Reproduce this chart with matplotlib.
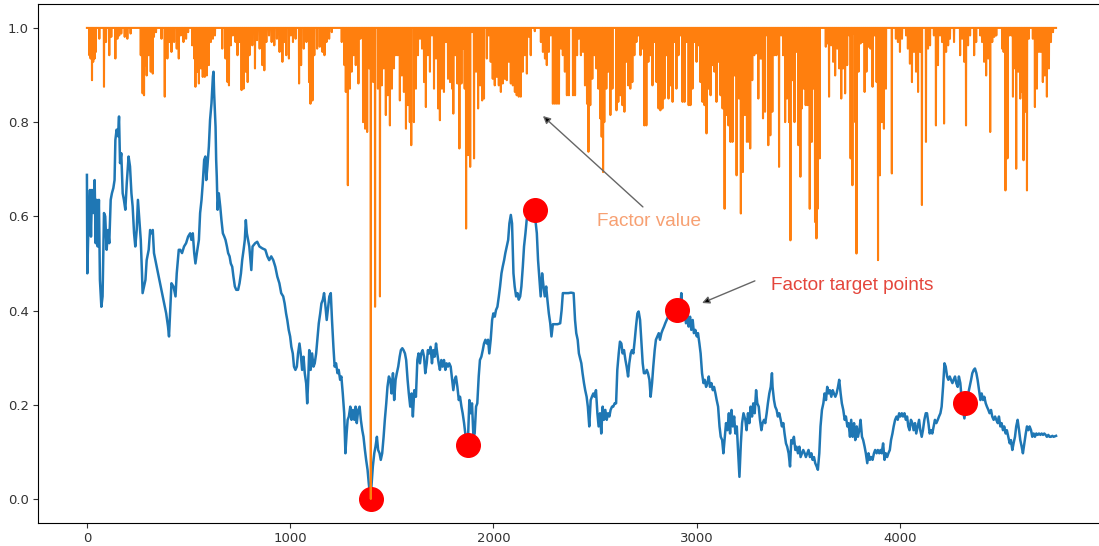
import numpy as np
import matplotlib
matplotlib.use("Agg")
import matplotlib.pyplot as plt

# ── Price curve (normalised), sampled along the bar index ─────────────────────
PRICE_X = [
    0, 2, 8, 15, 20, 25, 31, 38, 43, 48, 53, 59, 64, 71, 77, 84, 90, 97, 104, 110,
    117, 123, 130, 136, 140, 146, 153, 158, 163, 169, 176, 182, 189, 196, 205, 212,
    219, 225, 232, 238, 245, 251, 258, 265, 271, 274, 281, 288, 294, 304, 311, 317,
    324, 330, 340, 350, 360, 370, 380, 390, 399, 404, 409, 416, 426, 436, 442, 452,
    459, 468, 478, 488, 498, 508, 514, 521, 528, 534, 541, 551, 557, 564, 570, 577,
    583, 587, 593, 600, 606, 613, 620, 623, 626, 633, 636, 639, 643, 649, 656, 662,
    669, 676, 682, 689, 695, 702, 708, 715, 721, 728, 735, 744, 751, 758, 764, 771,
    777, 782, 787,
    799, 809, 815, 828, 838, 849, 863, 878, 888, 897, 907, 917, 927, 937, 947, 956,
    966, 973, 980, 986, 993, 1000, 1006, 1013, 1019, 1026, 1033, 1039, 1046, 1052,
    1059, 1066, 1072, 1079, 1084, 1089, 1094, 1101, 1108, 1115, 1121, 1128, 1134,
    1141, 1148, 1154, 1161, 1167, 1174, 1180, 1187, 1193, 1200, 1206, 1213, 1219,
    1226, 1233, 1239, 1246, 1252, 1259, 1266, 1272, 1278, 1283, 1289, 1296, 1302,
    1309, 1316, 1322, 1328, 1335, 1342, 1348, 1355, 1361, 1368, 1374, 1381, 1387,
    1394, 1397, 1400, 1407, 1414, 1420, 1427, 1433, 1440, 1446, 1453, 1460, 1466,
    1473, 1479, 1486, 1493, 1499, 1506, 1512, 1519, 1525, 1532, 1539, 1545, 1552,
    1558, 1565, 1571, 1578, 1584, 1591, 1598, 1604, 1611,
    1619, 1626, 1632, 1639, 1645, 1652, 1659, 1665, 1672, 1678, 1685, 1691, 1698,
    1704, 1711, 1718, 1724, 1731, 1737, 1744, 1750, 1757, 1764, 1770, 1777, 1783,
    1790, 1797, 1803, 1810, 1816, 1823, 1830, 1836, 1843, 1849, 1856, 1862, 1869,
    1875, 1882, 1888, 1895, 1902, 1908, 1915, 1921, 1928, 1934, 1941, 1948, 1954,
    1961, 1967, 1974, 1980, 1987, 1994, 2000, 2007, 2013, 2020, 2027, 2033, 2040,
    2046, 2053, 2059, 2066, 2073, 2079, 2086, 2092, 2095, 2099, 2105, 2112, 2119,
    2125, 2132, 2138, 2145, 2151, 2158, 2164, 2171, 2184, 2197, 2207, 2214, 2220,
    2227, 2233, 2240, 2247, 2253, 2260, 2266, 2273, 2280, 2286, 2293, 2299, 2316,
    2329, 2336, 2342, 2355, 2369, 2382, 2395, 2402, 2408, 2415, 2421,
    2433, 2439, 2446, 2452, 2459, 2465, 2472, 2479, 2485, 2492, 2498, 2505, 2512,
    2518, 2525, 2531, 2538, 2544, 2551, 2558, 2564, 2571, 2577, 2584, 2590, 2597,
    2604, 2610, 2617, 2623, 2630, 2636, 2643, 2650, 2656, 2663, 2669, 2676, 2682,
    2689, 2696, 2702, 2709, 2715, 2722, 2728, 2735, 2741, 2748, 2755, 2761, 2768,
    2774, 2781, 2787, 2794, 2800, 2807, 2814, 2820, 2827, 2833, 2840, 2846, 2853,
    2860, 2866, 2873, 2879, 2886, 2892, 2899, 2905, 2912, 2919, 2925, 2928, 2935,
    2941, 2948, 2955, 2961, 2968, 2974, 2981, 2987, 2994, 3001, 3007, 3014, 3020,
    3027, 3034, 3040, 3047, 3053, 3060, 3066, 3073, 3080, 3086, 3093, 3099, 3106,
    3113, 3119, 3126, 3132, 3139, 3145, 3152, 3159, 3165, 3172, 3178, 3185, 3191,
    3198, 3205, 3211, 3218, 3224, 3231,
    3240, 3246, 3253, 3260, 3266, 3273, 3279, 3286, 3293, 3299, 3306, 3312, 3319,
    3325, 3332, 3338, 3345, 3351, 3358, 3365, 3371, 3374, 3381, 3387, 3394, 3400,
    3407, 3414, 3420, 3427, 3433, 3440, 3446, 3453, 3460, 3466, 3473, 3479, 3486,
    3492, 3499, 3506, 3512, 3519, 3525, 3532, 3538, 3545, 3551, 3558, 3565, 3571,
    3578, 3584, 3591, 3597, 3604, 3610, 3617, 3624, 3630, 3637, 3643, 3650, 3656,
    3663, 3670, 3676, 3683, 3689, 3696, 3702, 3709, 3715, 3722, 3729, 3735, 3742,
    3748, 3755, 3761, 3768, 3775, 3781, 3788, 3794, 3801, 3807, 3814, 3820, 3827,
    3833, 3840, 3846, 3853, 3860, 3866, 3873, 3879, 3886, 3892, 3899, 3905, 3911,
    3918, 3925, 3931, 3938, 3944, 3951, 3957, 3964, 3970, 3977, 3984, 3990, 3997,
    4003, 4010, 4016, 4023, 4030, 4036,
    4042, 4048, 4055, 4062, 4068, 4075, 4081, 4088, 4095, 4101, 4108, 4114, 4121,
    4128, 4134, 4141, 4147, 4154, 4160, 4167, 4173, 4180, 4187, 4193, 4200, 4206,
    4213, 4220, 4226, 4233, 4239, 4246, 4252, 4259, 4265, 4272, 4278, 4285, 4291,
    4298, 4305, 4311, 4318, 4324, 4331, 4337, 4344, 4351, 4357, 4364, 4370, 4377,
    4383, 4390, 4397, 4403, 4410, 4416, 4423, 4429, 4436, 4442, 4449, 4455, 4462,
    4469, 4475, 4482, 4488, 4495, 4501, 4508, 4514, 4521, 4527, 4534, 4541, 4547,
    4554, 4560, 4567, 4573, 4580, 4587, 4593, 4600, 4606, 4613, 4620, 4626, 4633,
    4639, 4646, 4652, 4659, 4665, 4672, 4679, 4685, 4692, 4698, 4705, 4711, 4718,
    4724, 4731, 4737, 4744, 4751, 4757, 4769,
]
PRICE_Y = [
    .688, .479, .592, .656, .557, .656, .607, .677, .543, .635, .536, .635, .465, .408, .430, .607, .600, .529, .571, .543,
    .635, .649, .660, .677, .762, .784, .770, .812, .713, .734, .649, .635, .614, .670, .727, .706,
    .649, .621, .564, .536, .571, .635, .592, .550, .479, .437, .451, .465, .507, .529, .571, .564,
    .571, .522, .500, .479, .458, .437, .415, .394, .366, .345, .394, .458, .451, .430, .479, .529,
    .529, .522, .536, .543, .557, .564, .550, .564, .522, .500, .522, .550, .607, .635, .670, .720,
    .727, .677, .706, .748, .805, .840, .897, .907, .861, .790, .720, .684, .614, .649, .621, .592,
    .564, .557, .550, .536, .522, .515, .500, .493, .472, .451, .444, .444, .458, .479, .507, .529,
    .550, .592, .564,
    .536, .486, .536, .543, .546, .536, .532, .529, .515, .507, .515, .507, .493, .472, .458, .437,
    .430, .415, .394, .380, .359, .345, .323, .309, .281, .274, .281, .309, .330, .309,
    .274, .302, .267, .245, .203, .253, .316, .274, .309, .281, .288, .309, .338,
    .373, .394, .415, .423, .437, .408, .380, .408, .430, .437, .380, .323, .281,
    .288, .267, .274, .253, .260, .224, .182, .097, .139, .168, .175, .196, .168,
    .189, .168, .196, .161, .189, .196, .168, .146, .132, .104, .083, .062, .033,
    .005, .000, .026, .069, .097, .111, .132, .104, .097, .083, .097, .132, .168,
    .203, .238, .260, .253, .224, .267, .210, .253, .267, .281, .302, .316, .320,
    .316, .309, .295, .253, .224, .196, .224, .175, .231,
    .217, .295, .309, .288, .309, .316, .302, .267, .288, .316, .309, .323, .288,
    .316, .302, .330, .309, .288, .274, .295, .281, .295, .274, .288, .281, .288,
    .281, .253, .231, .253, .260, .238, .210, .217, .196, .182, .161, .139, .118,
    .125, .210, .182, .203, .132, .139, .196, .203, .260, .295, .302, .316, .330,
    .338, .330, .338, .309, .338, .380, .394, .387, .401, .408, .430, .451, .479,
    .493, .507, .522, .536, .550, .585, .603, .585, .536, .479, .451, .430, .437,
    .423, .430, .451, .493, .536, .564, .592, .607, .607, .600, .592, .564, .507,
    .465, .430, .479, .451, .430, .451, .423, .394, .373, .345, .371, .371, .371,
    .373, .401, .437, .437, .437, .438, .437, .380, .352, .338, .309,
    .288, .267, .246, .231, .217, .196, .154, .210, .217, .224, .217, .231, .182,
    .154, .182, .139, .196, .168, .189, .168, .182, .175, .189, .196, .196, .203,
    .203, .274, .309, .334, .330, .309, .316, .295, .281, .260, .288, .309, .316,
    .309, .338, .366, .394, .398, .380, .338, .288, .267, .267, .274, .267, .253,
    .217, .246, .281, .316, .338, .345, .352, .338, .352, .359, .366, .373, .380,
    .387, .394, .401, .394, .401, .394, .380, .387, .394, .401, .437, .408, .380,
    .394, .373, .394, .366, .387, .359, .380, .352, .359, .345, .352, .330, .309,
    .267, .246, .253, .238, .246, .260, .238, .246, .231, .238, .224, .210, .196,
    .154, .132, .125, .097, .132, .161, .146, .182, .139, .189, .154, .175, .139,
    .154, .097, .047, .118, .161, .182,
    .168, .146, .182, .161, .196, .175, .203, .182, .231, .203, .196, .168, .146,
    .161, .168, .161, .182, .203, .224, .238, .267, .238, .210, .196, .189, .175,
    .182, .168, .154, .161, .139, .118, .111, .097, .069, .125, .118, .132, .104,
    .111, .097, .111, .089, .097, .104, .097, .089, .097, .104, .089, .097, .083,
    .089, .076, .069, .062, .097, .154, .189, .203, .224, .210, .238, .224, .231,
    .217, .231, .224, .217, .224, .238, .253, .224, .203, .189, .168, .175, .154,
    .161, .132, .168, .132, .161, .125, .154, .132, .146, .168, .132, .125, .111,
    .097, .076, .097, .083, .089, .083, .097, .104, .097, .104, .097, .104, .097,
    .118, .083, .097, .089, .097, .104, .125, .139, .154, .168, .175, .168, .182,
    .175, .182, .175, .182, .168, .175,
    .154, .146, .168, .161, .146, .161, .139, .154, .168, .146, .132, .146, .168,
    .182, .182, .161, .139, .146, .139, .154, .168, .161, .168, .175, .182, .196,
    .238, .288, .281, .260, .253, .260, .253, .246, .253, .260, .246, .238, .260,
    .246, .210, .189, .171, .189, .210, .224, .238, .253, .267, .274, .277, .267,
    .253, .231, .210, .224, .210, .217, .203, .196, .189, .182, .189, .175, .168,
    .175, .168, .161, .175, .154, .161, .146, .154, .139, .146, .132, .118, .125,
    .104, .118, .132, .154, .168, .146, .125, .111, .097, .118, .139, .154, .146,
    .154, .146, .132, .139, .132, .139, .136, .139, .136, .139, .136, .139, .136,
    .132, .136, .132, .132, .134, .132, .134,
]

# ── Factor value: 1.0 except on the bars listed below ─────────────────────────
N_BARS = 4770
FACTOR_SPIKE_X = [
    12, 18, 25, 31, 38, 44, 61, 84, 94, 110, 120, 140, 150, 159, 169, 186, 199, 215,
    265, 274, 281, 288, 294, 304, 314, 324, 330, 340, 367, 383, 396, 406, 416, 429,
    442, 452, 462, 475, 488, 498, 518, 528, 534, 544, 551, 561, 570, 580, 590, 600,
    610, 620, 630, 666, 682, 692, 699, 708, 718, 731, 741, 751, 761, 771, 781, 791,
    800, 814, 827, 837, 850, 863, 873, 883, 896, 909, 922, 935, 948, 962, 971, 981,
    994, 1004, 1014, 1027, 1044, 1054, 1067, 1080, 1093, 1100, 1110, 1119, 1133,
    1146, 1159, 1169, 1179, 1192, 1205, 1254, 1267, 1274, 1284, 1294, 1303, 1313,
    1323, 1336, 1346, 1359, 1369, 1379, 1389, 1397, 1409, 1418, 1432, 1442, 1451,
    1461, 1471, 1481, 1491, 1501, 1511, 1520, 1530, 1540, 1550, 1560, 1570, 1580,
    1589, 1596,
    1609, 1619, 1629, 1639, 1649, 1659, 1668, 1678, 1688, 1698, 1708, 1718, 1728,
    1737, 1747, 1757, 1767, 1777, 1787, 1797, 1803, 1813, 1823, 1833, 1843, 1853,
    1859, 1866, 1876, 1886, 1895, 1905, 1915, 1925, 1935, 1945, 1954, 1968, 1977,
    1987, 1997, 2007, 2017, 2027, 2037, 2046, 2056, 2066, 2076, 2086, 2096, 2106,
    2115, 2125, 2135, 2145, 2155, 2165, 2175, 2184, 2204, 2234, 2244, 2254, 2263,
    2273, 2283, 2293, 2303, 2313, 2323, 2333, 2342, 2352, 2362, 2372, 2392, 2402,
    2412, 2421, 2431, 2441, 2451, 2461, 2468, 2477, 2487, 2497, 2507, 2517, 2526,
    2533, 2540, 2546, 2556, 2566, 2576, 2586, 2606, 2615, 2625, 2635, 2645, 2655,
    2664, 2674, 2684, 2694, 2704, 2714, 2724, 2734, 2743, 2753, 2763, 2773, 2783,
    2793, 2803, 2813, 2822, 2832, 2842, 2852, 2862, 2872, 2882, 2891, 2901, 2911,
    2921, 2931, 2941, 2951, 2961, 2970, 2980, 2990, 3000, 3010, 3019, 3029, 3039,
    3049, 3059, 3069, 3079, 3088, 3098, 3108, 3118, 3128, 3138, 3148, 3157, 3167,
    3177, 3187, 3197,
    3209, 3218, 3228, 3238, 3248, 3258, 3264, 3274, 3284, 3294, 3304, 3314, 3320,
    3327, 3337, 3347, 3353, 3363, 3373, 3383, 3393, 3406, 3416, 3426, 3436, 3445,
    3455, 3462, 3472, 3482, 3491, 3501, 3511, 3518, 3528, 3537, 3547, 3557, 3567,
    3577, 3583, 3590, 3596, 3606, 3636, 3646, 3652, 3662, 3672, 3682, 3692, 3702,
    3712, 3721, 3731, 3741, 3751, 3758, 3767, 3774, 3781, 3787, 3797, 3807, 3817,
    3827, 3836, 3846, 3856, 3866, 3876, 3886, 3893, 3902, 3912, 3922, 3932, 3961,
    3981, 3991, 4001, 4011, 4031, 4040, 4050, 4060, 4070, 4080, 4090, 4100, 4109,
    4129, 4139, 4149, 4168, 4178, 4188, 4198, 4208, 4218, 4228, 4238, 4247, 4267,
    4297, 4307, 4317, 4326, 4336, 4346, 4366, 4376, 4396, 4405, 4415, 4425, 4435,
    4445, 4455, 4465, 4475, 4504, 4511, 4520, 4530, 4540, 4550, 4557, 4567, 4573,
    4583, 4593, 4603, 4609, 4619, 4626, 4635, 4655, 4665, 4675, 4685, 4694, 4704,
    4714, 4724, 4734, 4744, 4754,
]
FACTOR_SPIKE_Y = [
    .942, .935, .889, .928, .935, .949, .977, .875, .970, .942, .981, .935, .977, .984, .988, .981, .977, .988,
    .942, .861, .857, .921, .899, .942, .907, .903, .981, .991, .977, .854, .935, .970, .949, .970,
    .956, .935, .984, .970, .977, .991, .963, .935, .875, .907, .882, .914, .896, .896, .899, .921,
    .970, .977, .984, .956, .935, .885, .878, .963, .984, .970, .942, .970, .868, .871, .907, .885,
    .942, .963, .914, .974, .956, .921, .910, .970, .984, .970, .963, .977, .949, .928, .970, .942,
    .935, .984, .970, .977, .882, .921, .956, .970, .885, .839, .846, .942, .956,
    .960, .949, .942, .970, .977, .991, .970, .921, .864, .666, .871, .907, .942,
    .921, .882, .977, .800, .786, .779, .914, .000, .885, .408, .871, .430, .878,
    .914, .815, .857, .793, .871, .914, .942, .942, .846, .899, .864, .786, .836,
    .800, .751,
    .800, .871, .942, .977, .956, .885, .832, .942, .907, .984, .871, .935, .829,
    .804, .871, .864, .970, .892, .885, .871, .818, .942, .882, .744, .882, .956,
    .871, .574, .730, .705, .991, .723, .907, .829, .878, .846, .850, .935, .984,
    .928, .892, .878, .896, .878, .864, .882, .892, .889, .928, .882, .878, .864,
    .857, .854, .854, .907, .942, .903, .981, .942, .993, .970, .949, .935, .921,
    .949, .984, .839, .839, .839, .839, .956, .942, .907, .857, .857, .857, .857,
    .942, .977, .942, .949, .878, .839, .737, .836, .892, .942, .914, .871, .808,
    .769, .694, .800, .871, .907, .815, .871, .825, .843, .857, .836, .822, .928,
    .878, .871, .885, .942, .970, .984, .942, .956, .793, .793, .928, .942, .878,
    .970, .885, .829, .825, .829, .850, .942, .850, .878, .843, .970, .871, .942,
    .984, .843, .843, .970, .836, .836, .871, .970, .928, .963, .885, .843, .836,
    .776, .871, .857, .921, .907, .843, .928, .857, .829, .616, .815, .793, .758,
    .758, .899, .687,
    .850, .606, .694, .815, .758, .758, .744, .889, .942, .946, .850, .935, .935,
    .808, .822, .984, .751, .772, .822, .942, .942, .705, .984, .942, .800, .850,
    .800, .549, .889, .800, .949, .751, .684, .829, .871, .836, .836, .616, .758,
    .871, .588, .553, .616, .723, .960, .967, .854, .963, .928, .899, .956, .914,
    .850, .914, .861, .921, .984, .723, .666, .988, .800, .521, .907, .967, .970,
    .864, .907, .960, .956, .875, .984, .885, .507, .687, .800, .786, .871, .691,
    .977, .970, .949, .977, .984, .956, .924, .885, .949, .907, .864, .949, .624,
    .758, .956, .963, .984, .793, .921, .984, .970, .797, .949, .963, .977, .970,
    .942, .977, .928, .793, .963, .984, .942, .970, .984, .970, .928, .899, .935,
    .779, .970, .981, .984, .956, .949, .655, .723, .984, .984, .854, .914, .701,
    .907, .850, .864, .719, .822, .655, .977, .977, .832, .871, .949, .949, .885,
    .899, .854, .914, .970, .991,
]

# ── Points picked out by the factor ───────────────────────────────────────────
TARGET_X = [1397, 1875, 2204, 2906, 4321]
TARGET_Y = [0.000, 0.115, 0.614, 0.401, 0.203]

factor = np.ones(N_BARS)
factor[FACTOR_SPIKE_X] = FACTOR_SPIKE_Y

fig = plt.figure(figsize=(10.99, 5.46), dpi=100)
ax = fig.add_axes([0.035, 0.043, 0.97, 0.949])

ax.plot(PRICE_X, PRICE_Y, color="#1f77b4", lw=1.8, zorder=2)
ax.plot(TARGET_X, TARGET_Y, "o", color="#ff0000", ms=17, zorder=3)
ax.plot(np.arange(N_BARS), factor, color="#ff7f0e", lw=1.5, zorder=4)

ax.set_xlim(-0.05 * (N_BARS - 1), 1.05 * (N_BARS - 1))
ax.set_ylim(-0.05, 1.05)
ax.set_xticks([0, 1000, 2000, 3000, 4000])
ax.set_yticks([0.0, 0.2, 0.4, 0.6, 0.8, 1.0])
ax.tick_params(labelsize=9.5, colors="#333333")

# ── Callouts ──────────────────────────────────────────────────────────────────
arrow = dict(arrowstyle="-|>", ec="#666666", fc="black", lw=1.0,
             mutation_scale=11, shrinkA=0, shrinkB=0)
ax.annotate("", xy=(2244, 0.813), xytext=(2736, 0.620), arrowprops=arrow, zorder=5)
ax.annotate("", xy=(3027, 0.416), xytext=(3287, 0.463), arrowprops=arrow, zorder=5)
ax.text(2766, 0.590, "Factor value", color="#f7a072", fontsize=13.7,
        family="Liberation Sans", ha="center", va="center", zorder=5)
ax.text(3366, 0.454, "Factor target points", color="#e4463c", fontsize=13.7,
        family="Liberation Sans", ha="left", va="center", zorder=5)

fig.savefig("out.png", dpi=100)
